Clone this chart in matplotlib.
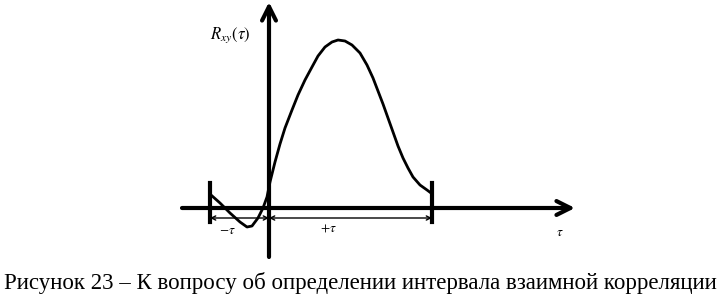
import matplotlib
matplotlib.use("Agg")
import matplotlib.pyplot as plt

plt.rcParams['mathtext.fontset'] = 'stix'

# curve R_xy(tau) (1 unit = 10 px)
tau = [-5.8, -4.9, -3.9, -2.9, -2.2, -1.7, -1.1, -0.6, -0.2, 0.1, 0.6, 1.1, 1.6, 2.3,
       2.9, 3.6, 4.3, 4.9, 5.6, 6.3, 6.9, 7.6, 8.3, 9.1, 9.8, 10.4, 10.9, 11.4, 11.9,
       12.4, 12.9, 13.4, 13.9, 14.4, 15.1, 15.8, 16.2]
r_xy = [1.3, 0.5, -0.5, -1.4, -1.9, -1.8, -1.0, 0.0, 1.1, 2.6, 4.6, 6.4, 8.0, 9.8,
        11.3, 12.8, 14.1, 15.2, 16.1, 16.6, 16.8, 16.7, 16.3, 15.5, 14.3, 13.0, 11.7, 10.4, 9.0,
        7.6, 6.2, 5.0, 4.0, 3.1, 2.3, 1.8, 1.5]

tau_left = -5.9   # граница -tau
tau_right = 16.3  # граница +tau

caption = "Рисунок 23 – К вопросу об определении интервала взаимной корреляции"

fig = plt.figure(figsize=(7.2, 3.01), dpi=100)
ax = fig.add_axes([0, 0, 1, 1])
ax.set_xlim(-26.9, 45.1)
ax.set_ylim(-9.3, 20.8)
ax.axis('off')

# оси
ax.annotate("", xy=(30.6, 0), xytext=(-8.7, 0),
            arrowprops=dict(arrowstyle="->,head_length=1.0,head_width=0.5", lw=3, color="black",
                            shrinkA=0, shrinkB=0))
ax.annotate("", xy=(0, 20.6), xytext=(0, -4.9),
            arrowprops=dict(arrowstyle="->,head_length=1.0,head_width=0.5", lw=3, color="black",
                            shrinkA=0, shrinkB=0))

# кривая
ax.plot(tau, r_xy, color="black", lw=2, solid_joinstyle="round")

# границы интервала
for xv in (tau_left, tau_right):
    ax.plot([xv, xv], [-1.4, 2.5], color="black", lw=3)

# размерные линии
ax.annotate("", xy=(0, -1.0), xytext=(tau_left, -1.0),
            arrowprops=dict(arrowstyle="<->,head_length=0.3,head_width=0.15", lw=1, color="black",
                            shrinkA=0, shrinkB=0))
ax.annotate("", xy=(tau_right, -1.0), xytext=(0, -1.0),
            arrowprops=dict(arrowstyle="<->,head_length=0.3,head_width=0.15", lw=1, color="black",
                            shrinkA=0, shrinkB=0))

ax.text(-4.2, -2.2, r"$-\tau$", ha="center", va="center", fontsize=9.5)
ax.text(5.9, -2.0, r"$+\tau$", ha="center", va="center", fontsize=9.5)
ax.text(29.1, -2.5, r"$\tau$", ha="center", va="center", fontsize=9.5)
ax.text(-3.9, 17.3, r"$R_{xy}(\tau)$", ha="center", va="center", fontsize=12)

ax.text(9.1, -7.5, caption, ha="center", va="center", fontsize=16.5,
        family="Liberation Serif")

fig.savefig("out.png", dpi=100)
